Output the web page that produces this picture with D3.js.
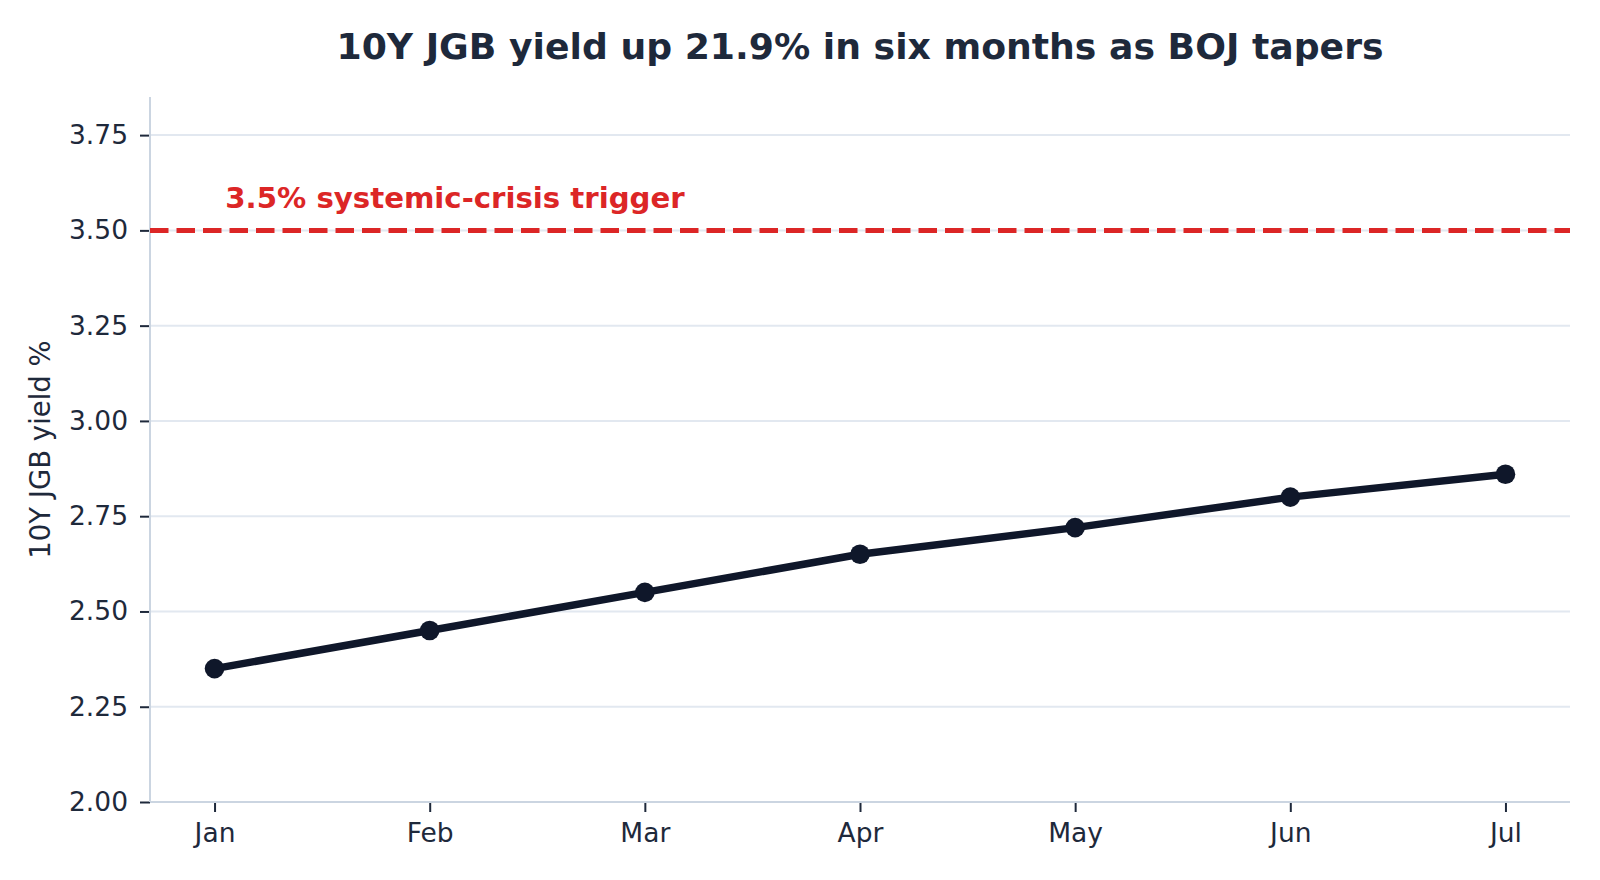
<!DOCTYPE html>
<html>
<head>
<meta charset="utf-8">
<script src="https://cdn.jsdelivr.net/npm/d3@7"></script>
<style>
  body { margin: 0; background: #fff; }
  svg { display: block; font-family: "DejaVu Sans", sans-serif; }
</style>
</head>
<body>
<svg id="chart"></svg>
<script>
// data
var months = ["Jan", "Feb", "Mar", "Apr", "May", "Jun", "Jul"];
var yields = [2.35, 2.45, 2.55, 2.65, 2.72, 2.80, 2.86];
var yTicks = [2.00, 2.25, 2.50, 2.75, 3.00, 3.25, 3.50, 3.75];
var threshold = 3.5;
var thresholdLabel = "3.5% systemic-crisis trigger";
var title = "10Y JGB yield up 21.9% in six months as BOJ tapers";
var yLabel = "10Y JGB yield %";

var W = 1600, H = 880;
var margin = { top: 97, right: 30, bottom: 78, left: 150 };
var w = W - margin.left - margin.right,
	h = H - margin.top - margin.bottom;

var ink = "#1e293b";

var svg = d3.select("#chart")
	.attr("width", W)
	.attr("height", H);

var x = d3.scaleLinear()
	.domain([-0.3, months.length - 1 + 0.3])
	.range([0, w]);

var y = d3.scaleLinear()
	.domain([2.0, 3.85])
	.range([h, 0]);

var g = svg.append("g")
	.attr("transform", "translate(" + margin.left + "," + margin.top + ")");

// gridlines
g.selectAll("line.grid")
	.data(yTicks)
	.enter().append("line")
	.attr("class", "grid")
	.attr("x1", 0)
	.attr("x2", w)
	.attr("y1", function(d) { return y(d); })
	.attr("y2", function(d) { return y(d); })
	.style("stroke", "#e2e8f0")
	.style("stroke-width", 2);

// axes
var yAxis = d3.axisLeft(y)
	.tickValues(yTicks)
	.tickFormat(d3.format(".2f"))
	.tickSize(10)
	.tickPadding(12);

var xAxis = d3.axisBottom(x)
	.tickValues(d3.range(months.length))
	.tickFormat(function(i) { return months[i]; })
	.tickSize(10)
	.tickPadding(11);

g.append("g")
	.attr("class", "y axis")
	.call(yAxis);

g.append("g")
	.attr("class", "x axis")
	.attr("transform", "translate(0," + h + ")")
	.call(xAxis);

g.selectAll(".axis path").remove();
g.selectAll(".axis line")
	.style("stroke", ink)
	.style("stroke-width", 2);
g.selectAll(".axis text")
	.style("fill", ink)
	.style("font-size", "26.5px")
	.style("font-family", "DejaVu Sans");
g.selectAll(".x.axis text").attr("dy", "0.71em");

// spines (left and bottom only)
g.append("line")
	.attr("x1", 0).attr("x2", 0)
	.attr("y1", 0).attr("y2", h)
	.style("stroke", "#cbd5e1")
	.style("stroke-width", 2);
g.append("line")
	.attr("x1", 0).attr("x2", w)
	.attr("y1", h).attr("y2", h)
	.style("stroke", "#cbd5e1")
	.style("stroke-width", 2);

// threshold line
g.append("line")
	.attr("x1", 0).attr("x2", w)
	.attr("y1", y(threshold)).attr("y2", y(threshold))
	.style("stroke", "#dc2626")
	.style("stroke-width", 5)
	.style("stroke-dasharray", "18.5,8");

g.append("text")
	.attr("x", x(0.05))
	.attr("y", y(threshold) - 22)
	.style("fill", "#dc2626")
	.style("font-size", "29.2px")
	.style("font-weight", "bold")
	.text(thresholdLabel);

// series line
var line = d3.line()
	.x(function(d, i) { return x(i); })
	.y(function(d) { return y(d); });

g.append("path")
	.datum(yields)
	.attr("d", line)
	.style("fill", "none")
	.style("stroke", "#0f172a")
	.style("stroke-width", 7.5)
	.style("stroke-linejoin", "round")
	.style("stroke-linecap", "round");

g.selectAll("circle.pt")
	.data(yields)
	.enter().append("circle")
	.attr("class", "pt")
	.attr("cx", function(d, i) { return x(i); })
	.attr("cy", function(d) { return y(d); })
	.attr("r", 9.8)
	.style("fill", "#0f172a");

// y label
svg.append("text")
	.attr("transform", "translate(50," + (margin.top + h / 2) + ") rotate(-90)")
	.style("text-anchor", "middle")
	.style("fill", ink)
	.style("font-size", "27.5px")
	.text(yLabel);

// title
svg.append("text")
	.attr("x", margin.left + w / 2)
	.attr("y", 58.5)
	.style("text-anchor", "middle")
	.style("fill", ink)
	.style("font-size", "36.2px")
	.style("font-weight", "bold")
	.text(title);
</script>
</body>
</html>
